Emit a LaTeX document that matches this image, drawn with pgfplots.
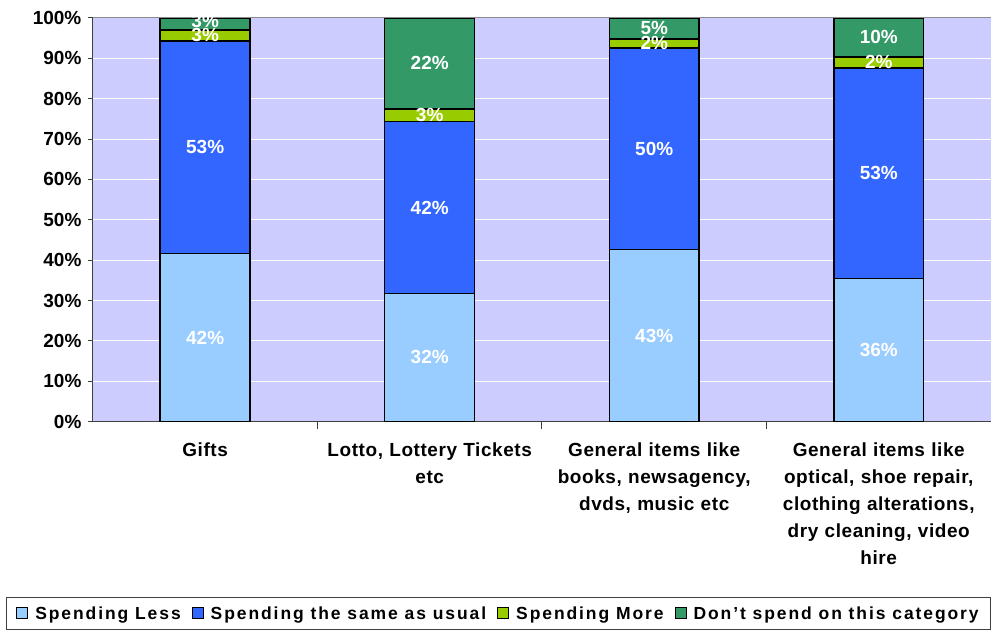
\documentclass[border=0pt]{standalone}
\usepackage{fontspec}
\setmainfont{Liberation Sans}
\newfontfamily\catfont[LetterSpace=3]{Liberation Sans}
\newfontfamily\legfont[LetterSpace=11]{Liberation Sans}
\usepackage{pgfplots}
\usepackage{pgfplotstable}
\pgfplotsset{compat=1.18}

\definecolor{plotbg}{HTML}{CCCCFF}
\definecolor{cless}{HTML}{99CCFF}
\definecolor{csame}{HTML}{3366FF}
\definecolor{cmore}{HTML}{99CC00}
\definecolor{cnone}{HTML}{339966}

% x: 0 Gifts, 1 Lotto, 2 books etc, 3 optical etc
\pgfplotstableread{
x y
0 41.6
1 31.7
2 42.6
3 35.4
}\less
\pgfplotstableread{
x y
0 52.7
1 42.6
2 50.0
3 52.2
}\same
\pgfplotstableread{
x y
0 2.7
1 3.2
2 2.2
3 2.7
}\more
\pgfplotstableread{
x y
0 3.0
1 22.5
2 5.2
3 9.7
}\none
% value labels, at the middle of each segment
\pgfplotstableread{
x y lab
0 20.8 42
0 68.0 53
0 95.7 3
0 99.3 3
1 15.9 32
1 53.0 42
1 75.9 3
1 88.8 22
2 21.3 43
2 67.6 50
2 93.7 2
2 97.5 5
3 17.7 36
3 61.5 53
3 89.0 2
3 95.2 10
}\labs

\pgfplotsset{common/.style={
  scale only axis,
  width=899pt, height=404pt,
  xmin=-0.5, xmax=3.5,
  ymin=0, ymax=100,
}}

\begin{document}
\begin{tikzpicture}
\begin{axis}[
  common,
  ybar stacked,
  bar width=90pt,
  axis background/.style={fill=plotbg},
  separate axis lines,
  axis x line*=bottom, axis y line*=left,
  axis line style={draw=black!75, line width=1pt},
  ymajorgrids, grid style={white, line width=1pt},
  ytick={0,10,...,100},
  yticklabel={\pgfmathprintnumber{\tick}\%},
  /pgf/number format/assume math mode=true,
  tick align=outside,
  major tick length=5pt,
  ytick style={black!75, line width=1pt},
  yticklabel style={font=\bfseries\fontsize{19}{19}\selectfont, xshift=-3pt},
  xtick={0,1,2,3},
  xtick style={draw=none},
  xticklabels={Gifts,{Lotto, Lottery Tickets\\etc},{General items like\\books, newsagency,\\dvds, music etc},{General items like\\optical, shoe repair,\\clothing alterations,\\dry cleaning, video\\hire}},
  xticklabel style={font=\catfont\bfseries\fontsize{19}{27}\selectfont, align=center, text width=224pt, anchor=north, yshift=-13pt},
  extra x ticks={0.5,1.5,2.5},
  extra x tick labels={},
  extra x tick style={xtick style={draw=black!75, line width=1pt}, major tick length=7pt},
  every axis plot/.append style={draw=black, line width=1.5pt},
  legend style={at={(0.4516,-0.4356)}, anchor=north, legend columns=4, draw=black!75, line width=1pt,
    font=\legfont\bfseries\fontsize{17.5}{17.5}\selectfont, inner ysep=6.5pt, inner xsep=10pt,
    /tikz/every odd column/.append style={column sep=5pt},
    /tikz/every even column/.append style={column sep=9pt}},
  legend image code/.code={\draw[#1, line width=1pt] (0pt,-5pt) rectangle (11pt,6pt);},
  after end axis/.code={
    \draw[black!45, line width=1pt] (rel axis cs:0,1) -- (rel axis cs:1,1);
    \coordinate (bbtl) at (rel axis cs:0,1);
    \coordinate (bbbr) at (rel axis cs:1,0);
  },
]
\addplot[fill=cless] table[x=x, y=y] {\less};
\addplot[fill=csame] table[x=x, y=y] {\same};
\addplot[fill=cmore] table[x=x, y=y] {\more};
\addplot[fill=cnone] table[x=x, y=y] {\none};
\legend{Spending Less, Spending the same as usual, Spending More, Don’t spend on this category}
\end{axis}
\begin{axis}[common, hide axis, clip=false]
\addplot[draw=none, mark=none,
  nodes near coords={\pgfplotspointmeta\%},
  point meta=explicit symbolic,
  every node near coord/.append style={font=\bfseries\fontsize{19}{19}\selectfont, text=white, anchor=center}]
  table[x=x, y=y, meta=lab] {\labs};
\end{axis}
\pgfresetboundingbox
\path ([shift={(-93pt,18pt)}]bbtl) rectangle ([shift={(0pt,-208pt)}]bbbr);
\end{tikzpicture}
\end{document}
